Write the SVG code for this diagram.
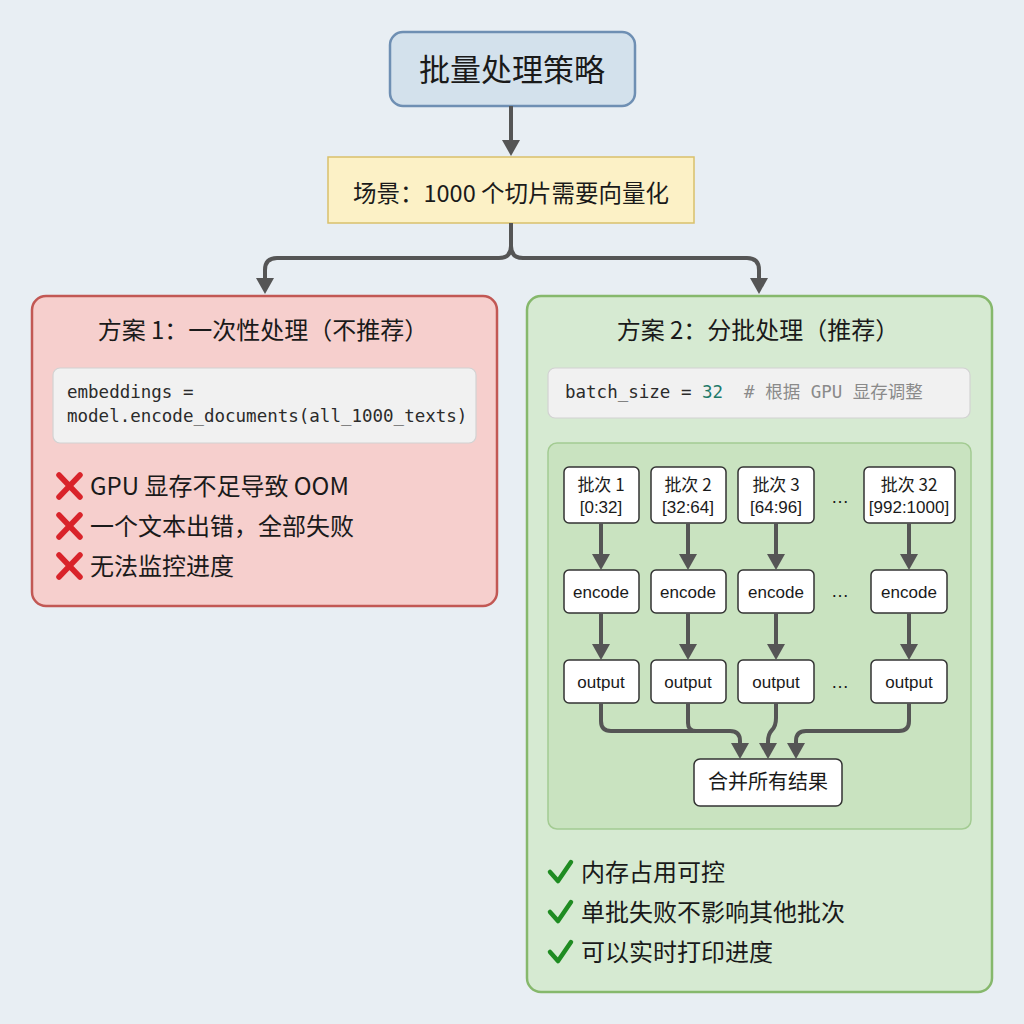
<svg xmlns="http://www.w3.org/2000/svg" width="1024" height="1024" viewBox="0 0 1024 1024">
<defs>
<marker id="ah" markerUnits="userSpaceOnUse" markerWidth="18" markerHeight="18" refX="6" refY="9" orient="auto">
<path d="M0,0 L16,9 L0,18 z" fill="#555"/>
</marker>
<style>
.cjk{font-family:"Noto Sans CJK SC","Liberation Sans",sans-serif;fill:#1a1a1a}
.lat{font-family:"Liberation Sans","Noto Sans CJK SC",sans-serif;fill:#1a1a1a}
.mono{font-family:"DejaVu Sans Mono","Noto Sans CJK SC",monospace;font-size:17.5px;fill:#2b2b2b}
.node{fill:#fff;stroke:#333;stroke-width:1.5}
.conn{fill:none;stroke:#555;stroke-width:4;stroke-linejoin:round}
.x{stroke:#d9232a;stroke-width:5.5;stroke-linecap:round}
.ok{fill:none;stroke:#1f8c22;stroke-width:4.5;stroke-linecap:round;stroke-linejoin:round}
</style>
</defs>
<rect width="1024" height="1024" fill="#e8eef3"/>

<g id="title">
<rect x="390" y="32" width="245" height="74" rx="13" fill="#d3e1ec" stroke="#6e8fb3" stroke-width="2.5"/>
<text x="512" y="81" class="cjk" font-size="31" text-anchor="middle">批量处理策略</text>
</g>

<g id="scenario">
<rect x="328" y="157" width="366" height="66" fill="#fcf1c6" stroke="#d9c06b" stroke-width="1.5"/>
<text x="511" y="202" class="cjk" font-size="23.5" text-anchor="middle">场景：1000 个切片需要向量化</text>
</g>

<g id="plan1">
<rect x="32" y="296" width="465" height="310" rx="14" fill="#f6cfcd" stroke="#c25854" stroke-width="2.5"/>
<text x="263" y="339" class="cjk" font-size="24" text-anchor="middle">方案 1：一次性处理（不推荐）</text>
<rect x="53" y="368" width="423" height="75" rx="7" fill="#f1f1f1" stroke="#d2d2d2" stroke-width="1.2"/>
<text x="67" y="398" class="mono">embeddings =</text>
<text x="67" y="422" class="mono">model.encode_documents(all_1000_texts)</text>
<g>
<path class="x" d="M59 475 L80 497 M80 475 L59 497"/>
<path class="x" d="M59 515 L80 537 M80 515 L59 537"/>
<path class="x" d="M59 555 L80 577 M80 555 L59 577"/>
</g>
<text x="90" y="495" class="cjk" font-size="24">GPU 显存不足导致 OOM</text>
<text x="90" y="535" class="cjk" font-size="24">一个文本出错，全部失败</text>
<text x="90" y="575" class="cjk" font-size="24">无法监控进度</text>
</g>

<g id="plan2">
<rect x="527" y="296" width="465" height="696" rx="14" fill="#d6ead2" stroke="#86b86c" stroke-width="2.5"/>
<text x="758" y="339" class="cjk" font-size="24" text-anchor="middle">方案 2：分批处理（推荐）</text>
<rect x="548" y="368" width="422" height="50" rx="7" fill="#f1f1f1" stroke="#d2d2d2" stroke-width="1.2"/>
<text x="565" y="398" class="mono">batch_size = <tspan fill="#1f7a6a">32</tspan><tspan fill="#8a8a8a" xml:space="preserve">  # 根据 GPU 显存调整</tspan></text>
<rect x="548" y="443" width="423" height="386" rx="9" fill="#c9e3c0" stroke="#a3cb92" stroke-width="1.5"/>
<g>
<path class="ok" d="M550 872 L558 881 L571 862"/>
<path class="ok" d="M550 912 L558 921 L571 902"/>
<path class="ok" d="M550 952 L558 961 L571 942"/>
</g>
<text x="581" y="881" class="cjk" font-size="24">内存占用可控</text>
<text x="581" y="921" class="cjk" font-size="24">单批失败不影响其他批次</text>
<text x="581" y="961" class="cjk" font-size="24">可以实时打印进度</text>
</g>

<g id="batch1">
<rect class="node" x="564" y="467" width="75" height="56" rx="5"/>
<text x="601" y="491" class="cjk" font-size="17" text-anchor="middle">批次 1</text>
<text x="601" y="513" class="lat" font-size="17" text-anchor="middle">[0:32]</text>
</g>
<g id="batch2">
<rect class="node" x="651" y="467" width="75" height="56" rx="5"/>
<text x="688" y="491" class="cjk" font-size="17" text-anchor="middle">批次 2</text>
<text x="688" y="513" class="lat" font-size="17" text-anchor="middle">[32:64]</text>
</g>
<g id="batch3">
<rect class="node" x="738" y="467" width="76" height="56" rx="5"/>
<text x="776" y="491" class="cjk" font-size="17" text-anchor="middle">批次 3</text>
<text x="776" y="513" class="lat" font-size="17" text-anchor="middle">[64:96]</text>
</g>
<g id="batch32">
<rect class="node" x="864" y="467" width="91" height="56" rx="5"/>
<text x="909" y="491" class="cjk" font-size="17" text-anchor="middle">批次 32</text>
<text x="909" y="513" class="lat" font-size="17" text-anchor="middle">[992:1000]</text>
</g>

<g id="encode1"><rect class="node" x="564" y="570" width="75" height="43" rx="5"/><text x="601" y="598" class="lat" font-size="17" text-anchor="middle">encode</text></g>
<g id="encode2"><rect class="node" x="651" y="570" width="75" height="43" rx="5"/><text x="688" y="598" class="lat" font-size="17" text-anchor="middle">encode</text></g>
<g id="encode3"><rect class="node" x="738" y="570" width="76" height="43" rx="5"/><text x="776" y="598" class="lat" font-size="17" text-anchor="middle">encode</text></g>
<g id="encode32"><rect class="node" x="871" y="570" width="76" height="43" rx="5"/><text x="909" y="598" class="lat" font-size="17" text-anchor="middle">encode</text></g>

<g id="output1"><rect class="node" x="564" y="660" width="75" height="43" rx="5"/><text x="601" y="688" class="lat" font-size="17" text-anchor="middle">output</text></g>
<g id="output2"><rect class="node" x="651" y="660" width="75" height="43" rx="5"/><text x="688" y="688" class="lat" font-size="17" text-anchor="middle">output</text></g>
<g id="output3"><rect class="node" x="738" y="660" width="76" height="43" rx="5"/><text x="776" y="688" class="lat" font-size="17" text-anchor="middle">output</text></g>
<g id="output32"><rect class="node" x="871" y="660" width="76" height="43" rx="5"/><text x="909" y="688" class="lat" font-size="17" text-anchor="middle">output</text></g>

<g id="ellipses">
<text x="840" y="503" class="lat" font-size="18" text-anchor="middle">…</text>
<text x="840" y="597" class="lat" font-size="18" text-anchor="middle">…</text>
<text x="840" y="688" class="lat" font-size="18" text-anchor="middle">…</text>
</g>

<g id="merge">
<rect class="node" x="694" y="759" width="148" height="47" rx="6"/>
<text x="768" y="789" class="cjk" font-size="20" text-anchor="middle">合并所有结果</text>
</g>

<g id="connectors">
<path class="conn" d="M511 106 V146" marker-end="url(#ah)"/>
<path class="conn" d="M511 223 V246 Q511 258 499 258 H277 Q265 258 265 270 V284" marker-end="url(#ah)"/>
<path class="conn" d="M511 223 V246 Q511 258 523 258 H747 Q759 258 759 270 V284" marker-end="url(#ah)"/>
<path class="conn" d="M601 523 V560" marker-end="url(#ah)"/>
<path class="conn" d="M688 523 V560" marker-end="url(#ah)"/>
<path class="conn" d="M776 523 V560" marker-end="url(#ah)"/>
<path class="conn" d="M909 523 V560" marker-end="url(#ah)"/>
<path class="conn" d="M601 613 V650" marker-end="url(#ah)"/>
<path class="conn" d="M688 613 V650" marker-end="url(#ah)"/>
<path class="conn" d="M776 613 V650" marker-end="url(#ah)"/>
<path class="conn" d="M909 613 V650" marker-end="url(#ah)"/>
<path class="conn" d="M601 703 V721 Q601 731 611 731 H730 Q740 731 740 741 V749" marker-end="url(#ah)"/>
<path class="conn" d="M688 703 V723 Q688 731 696 731"/>
<path class="conn" d="M776 703 V718 Q776 726 772 730 Q768 734 768 742 V749" marker-end="url(#ah)"/>
<path class="conn" d="M909 703 V721 Q909 731 899 731 H806 Q796 731 796 741 V749" marker-end="url(#ah)"/>
</g>
</svg>
